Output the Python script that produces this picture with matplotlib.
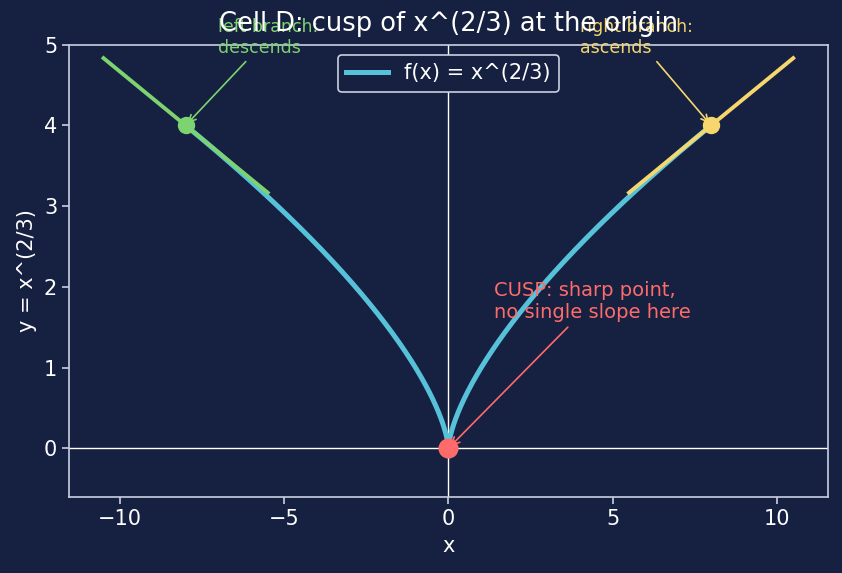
import numpy as np
import matplotlib
matplotlib.use("Agg")
import matplotlib.pyplot as plt

# data
x_curve_range = [-8, 8]
tangent_points = [-8, 8]          # where the branch tangents are drawn
tangent_half_width = 2.5
cusp_point = (0, 0)
tick_x = [-10, -5, 0, 5, 10]
tick_y = [0, 1, 2, 3, 4, 5]

BG = "#162040"
FG = "#ffffff"
SPINE = "#c8d0e0"
CYAN = "#56c1d8"
GREEN = "#7dd36f"
YELLOW = "#f5d76e"
RED = "#ff6b6b"


def f(x):
    return np.cbrt(np.asarray(x, dtype=float) ** 2)


def fprime(x):
    return (2.0 / 3.0) / np.cbrt(x)


fig = plt.figure(figsize=(8.42, 5.73), dpi=100, facecolor=BG)
ax = fig.add_axes([0.082, 0.133, 0.901, 0.789])
ax.set_facecolor(BG)

x = np.linspace(x_curve_range[0], x_curve_range[1], 801)
ax.plot(x, f(x), color=CYAN, lw=3.6, label="f(x) = x^(2/3)", zorder=3)

ax.axhline(0, color=FG, lw=1, zorder=1)
ax.axvline(0, color=FG, lw=1, zorder=1)

# tangent segments on each branch
for x0, col in zip(tangent_points, [GREEN, YELLOW]):
    y0 = f(x0)
    m = fprime(x0)
    xs = np.array([x0 - tangent_half_width, x0 + tangent_half_width])
    ax.plot(xs, y0 + m * (xs - x0), color=col, lw=2.8, zorder=4)
    ax.plot([x0], [y0], "o", color=col, ms=11.5, zorder=5)

ax.plot([cusp_point[0]], [cusp_point[1]], "o", color=RED, ms=13.5, zorder=5)

ax.annotate("left branch:\ndescends", xy=(-8, 4), xytext=(-7, 4.9),
            color=GREEN, fontsize=12.5, ha="left", va="baseline",
            arrowprops=dict(arrowstyle="->", color=GREEN, lw=1.2))
ax.annotate("right branch:\nascends", xy=(8, 4), xytext=(4, 4.9),
            color=YELLOW, fontsize=12.5, ha="left", va="baseline",
            arrowprops=dict(arrowstyle="->", color=YELLOW, lw=1.2))
ax.annotate("CUSP: sharp point,\nno single slope here", xy=cusp_point,
            xytext=(1.4, 1.61), color=RED, fontsize=14, ha="left",
            va="baseline",
            arrowprops=dict(arrowstyle="->", color=RED, lw=1.2))

ax.set_ylim(-0.6, 5)
ax.set_xticks(tick_x)
ax.set_yticks(tick_y)
ax.set_xlabel("x", color=FG, fontsize=15, labelpad=5)
ax.set_ylabel("y = x^(2/3)", color=FG, fontsize=15, labelpad=5)
ax.set_title("Cell D: cusp of x^(2/3) at the origin", color=FG, fontsize=18.5, pad=9.5)
ax.tick_params(colors=FG, labelsize=15, width=1.2, length=5)
ax.tick_params(color=SPINE)
for s in ax.spines.values():
    s.set_color(SPINE)
    s.set_linewidth(1.2)

leg = ax.legend(loc="upper center", fontsize=15, facecolor=BG, edgecolor=SPINE,
                framealpha=1, borderaxespad=0.5)
leg.get_frame().set_linewidth(1.2)
for t in leg.get_texts():
    t.set_color(FG)

fig.savefig("out.png", dpi=100, facecolor=BG)
